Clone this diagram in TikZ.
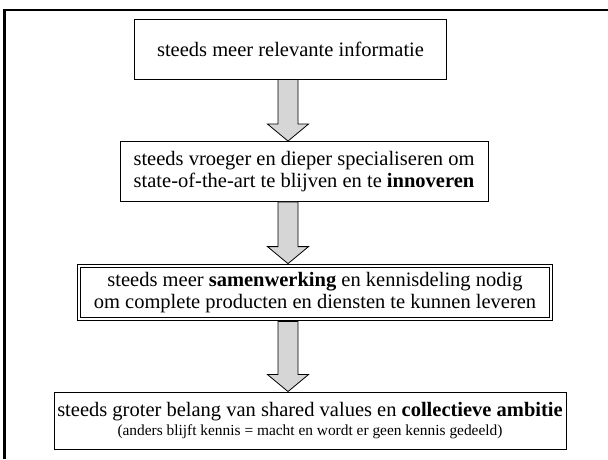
\documentclass[tikz,border=0pt]{standalone}
\usepackage{fontspec}
\setmainfont{Liberation Serif}
\usetikzlibrary{calc}
\tikzset{
  stagebox/.style={draw=black, line width=0.9pt, fill=white, inner sep=0pt,
    align=center, font=\fontsize{20.5}{22.5}\selectfont},
  doublebox/.style={stagebox, double=white, double distance=2.2pt, line width=0.75pt},
  stagearrow/.style={draw=black, line width=0.8pt, fill=black!16, line join=miter},
  frameline/.style={line width=2.9pt, black},
}
% block arrow from #1 (top, on the axis) to #2 (tip)
\newcommand\blockarrow[2]{%
  \draw[stagearrow] let \p1=(#1), \p2=(#2) in
    (\x1-10pt,\y1) -- (\x1-10pt,\y2+17pt) -- (\x1-20.5pt,\y2+17pt) --
    (\x1,\y2) -- (\x1+20.5pt,\y2+17pt) -- (\x1+10pt,\y2+17pt) --
    (\x1+10pt,\y1) -- cycle;}
\begin{document}
\begin{tikzpicture}[x=1pt,y=-1pt]
\useasboundingbox (0,0) rectangle (608,459);
\fill[white] (0,0) rectangle (608,459);
% slide frame
\draw[frameline] (4.5,459) -- (4.5,10) -- (608,10);

% stages
\node[stagebox, minimum width=312, minimum height=60] (b1) at (290.5,49)
  {steeds meer relevante informatie};
\node[stagebox, minimum width=368, minimum height=60] (b2) at (304,171.5)
  {steeds vroeger en dieper specialiseren om\\
   state-of-the-art te blijven en te \textbf{innoveren}};
\node[doublebox, minimum width=472, minimum height=53] (b3) at (315,292.5)
  {steeds meer \textbf{samenwerking} en kennisdeling nodig\\
   om complete producten en diensten te kunnen leveren};
\node[stagebox, minimum width=512, minimum height=57] (b4) at (310,420.5)
  {steeds groter belang van shared values en \textbf{collectieve ambitie}\\[-3pt]
   {\fontsize{15.4}{17}\selectfont (anders blijft kennis = macht en wordt er geen kennis gedeeld)}};

% arrow axis and arrow end points
\coordinate (axis) at (288,0);
\coordinate (a1s) at (b1.south -| axis);
\coordinate (a1e) at (b2.north -| axis);
\coordinate (a2s) at (b2.south -| axis);
\coordinate (a2e) at ($(b3.north -| axis)+(0,-2)$);
\coordinate (a3s) at ($(b3.south -| axis)+(0,2)$);
\coordinate (a3e) at (b4.north -| axis);

\blockarrow{a1s}{a1e}
\blockarrow{a2s}{a2e}
\blockarrow{a3s}{a3e}
\end{tikzpicture}
\end{document}
